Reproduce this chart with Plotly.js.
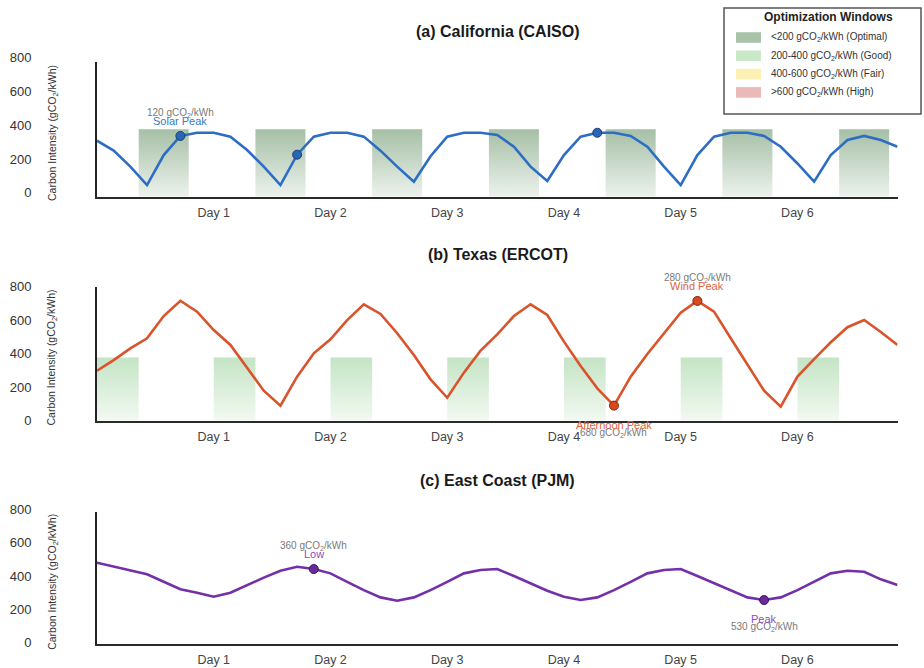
<!DOCTYPE html>
<html>
<head>
<meta charset="utf-8">
<script src="https://cdn.plot.ly/plotly-3.0.1.min.js"></script>
<style>html,body{margin:0;padding:0;background:#fff;}#chart{width:924px;height:668px;}</style>
</head>
<body>
<div id="chart"></div>
<script>
// ---------------- DATA ----------------
const steps = [0,1,2,3,4,5,6,7,8,9,10,11,12,13,14,15,16,17,18,19,20,21,22,23,24,25,26,27,28,29,30,31,32,33,34,35,36,37,38,39,40,41,42,43,44,45,46,47,48];
const dayTickVals = [7,14,21,28,35,42];
const dayTickText = ["Day 1","Day 2","Day 3","Day 4","Day 5","Day 6"];
const yTickVals = [0,200,400,600,800];

const caiso = [332,273,178,69,247,360,379,379,356,277,178,69,249,356,379,379,356,273,178,89,240,356,379,379,366,296,178,93,247,356,379,379,360,296,178,69,247,356,379,379,360,296,197,89,247,336,360,336,296];
const ercot = [298,362,432,492,625,716,651,541,452,313,179,90,263,402,486,601,695,637,522,392,247,137,287,418,515,625,695,631,472,327,193,90,263,398,525,645,715,651,492,332,179,84,263,368,468,558,601,530,452];
const pjm   = [492,468,444,422,377,332,311,287,311,358,402,444,468,454,428,377,327,283,263,283,327,377,428,448,454,412,368,323,287,267,283,327,377,428,448,454,412,368,323,283,267,283,327,377,428,444,438,392,358];

// optimization windows
const caisoWinStart = [2.5,9.5,16.5,23.5,30.5,37.5,44.5];
const caisoWinEnd   = [5.5,12.5,19.5,26.5,33.5,40.5,47.5];
const caisoWinTop   = 400;
const ercotWinStart = [0,7,14,21,28,35,42];
const ercotWinEnd   = [2.5,9.5,16.5,23.5,30.5,37.5,44.5];
const ercotWinTop   = 378;

// highlighted points
const caisoMarkIdx = [5,12,30];
const ercotMarkIdx = [31,36];
const pjmMarkIdx   = [13,40];

// event labels
const caisoEvtIdx = [5];   const caisoEvtLabel = ["Solar Peak"];                 const caisoEvtValue = ["120 gCO<sub>2</sub>/kWh"]; const caisoEvtSide = ["above"];
const ercotEvtIdx = [36,31]; const ercotEvtLabel = ["Wind Peak","Afternoon Peak"]; const ercotEvtValue = ["280 gCO<sub>2</sub>/kWh","680 gCO<sub>2</sub>/kWh"]; const ercotEvtSide = ["above","below"];
const pjmEvtIdx = [13,40];   const pjmEvtLabel = ["Low","Peak"];                   const pjmEvtValue = ["360 gCO<sub>2</sub>/kWh","530 gCO<sub>2</sub>/kWh"]; const pjmEvtSide = ["above","below"];

const panelTitles = ["(a) California (CAISO)","(b) Texas (ERCOT)","(c) East Coast (PJM)"];
const yTitle = "Carbon Intensity (gCO<sub>2</sub>/kWh)";

const legendTitle = "Optimization Windows";
const legendLabels = ["&lt;200 gCO<sub>2</sub>/kWh (Optimal)","200-400 gCO<sub>2</sub>/kWh (Good)","400-600 gCO<sub>2</sub>/kWh (Fair)","&gt;600 gCO<sub>2</sub>/kWh (High)"];
const legendColors = ["#a9c3a9","#c8e8c8","#fdf0b4","#ecb9b9"];

// ---------------- STYLE / LAYOUT ----------------
const W = 924, H = 668;
const FONT = "Liberation Sans, Arial, Helvetica, sans-serif";
const px = v => v / W;
const py = v => 1 - v / H;
const xDom = [px(97), px(897.5)];
// [bottom px, top px] of each panel
const panels = [[196.7, 61.7],[420.7, 286.7],[644.3, 511.7]];
const titleY = [31.7, 255, 480];
const yShift = [-4, -1.5, -2];

const lineColors = ["#2d6ec4","#d9532b","#7330a8"];
const markFill = ["#2a66b8","#d9481f","#6a2a9a"];
const markEdge = ["#1b3f72","#7d2810","#3c1560"];
const evtColors = ["#3b78c9","#e2633b","#8b4cc2"];

function windowsTrace(starts, ends, top, axis, cBottom, cTop) {
  const xs = [], ys = [];
  for (let k = 0; k < starts.length; k++) {
    xs.push(starts[k], starts[k], ends[k], ends[k], starts[k], null);
    ys.push(0, top, top, 0, 0, null);
  }
  return {
    type: "scatter", mode: "lines", x: xs, y: ys, xaxis: "x" + axis, yaxis: "y" + axis,
    fill: "toself", line: {width: 0, color: "rgba(0,0,0,0)"},
    fillgradient: {type: "vertical", colorscale: [[0, cBottom], [1, cTop]]},
    hoverinfo: "skip", showlegend: false
  };
}
function lineTrace(vals, p) {
  return {
    type: "scatter", mode: "lines", x: steps, y: vals,
    xaxis: "x" + (p === 0 ? "" : p + 1), yaxis: "y" + (p === 0 ? "" : p + 1),
    line: {color: lineColors[p], width: 2.6}, showlegend: false, hoverinfo: "x+y"
  };
}
function markTrace(vals, idx, p) {
  return {
    type: "scatter", mode: "markers", x: idx.map(i => steps[i]), y: idx.map(i => vals[i]),
    xaxis: "x" + (p === 0 ? "" : p + 1), yaxis: "y" + (p === 0 ? "" : p + 1),
    marker: {size: 9, color: markFill[p], line: {color: markEdge[p], width: 1}},
    showlegend: false
  };
}

const data = [
  windowsTrace(caisoWinStart, caisoWinEnd, caisoWinTop, "", "rgba(236,242,236,1)", "rgba(166,191,166,1)"),
  windowsTrace(ercotWinStart, ercotWinEnd, ercotWinTop, "2", "rgba(242,249,242,1)", "rgba(197,228,197,1)"),
  lineTrace(caiso, 0), lineTrace(ercot, 1), lineTrace(pjm, 2),
  markTrace(caiso, caisoMarkIdx, 0), markTrace(ercot, ercotMarkIdx, 1), markTrace(pjm, pjmMarkIdx, 2)
];

const layout = {
  width: W, height: H,
  margin: {l: 0, r: 0, t: 0, b: 0, pad: 0},
  paper_bgcolor: "#fff", plot_bgcolor: "rgba(0,0,0,0)",
  font: {family: FONT, color: "#333"},
  showlegend: false,
  annotations: [], shapes: []
};

for (let p = 0; p < 3; p++) {
  const sfx = p === 0 ? "" : String(p + 1);
  layout["xaxis" + sfx] = {
    domain: xDom, range: [0, 48], anchor: "y" + sfx,
    tickmode: "array", tickvals: dayTickVals, ticktext: dayTickText,
    showline: true, linecolor: "#2a2a2a", linewidth: 2, ticks: "",
    showgrid: false, zeroline: false, automargin: false,
    tickfont: {size: 12.5, color: "#444", family: FONT}, ticklabelstandoff: 3,
    fixedrange: true
  };
  layout["yaxis" + sfx] = {
    domain: [py(panels[p][0]), py(panels[p][1])], range: [0, 800], anchor: "x" + sfx,
    tickmode: "array", tickvals: yTickVals,
    showline: true, linecolor: "#222", linewidth: 2, ticks: "",
    showgrid: false, zeroline: false, automargin: false,
    tickfont: {size: 13, color: "#333", family: FONT}, ticklabelstandoff: 61,
    ticklabelshift: yShift[p], fixedrange: true
  };
  layout.annotations.push({
    xref: "paper", yref: "paper", x: px(497.5), y: py(titleY[p]),
    text: "<b>" + panelTitles[p] + "</b>", showarrow: false,
    font: {size: 16, color: "#1a1a1a", family: FONT}, xanchor: "center", yanchor: "middle"
  });
  layout.annotations.push({
    xref: "paper", yref: "paper", x: px(52.3), y: py((panels[p][0] + panels[p][1]) / 2 + 3.5),
    text: yTitle, showarrow: false, textangle: -90,
    font: {size: 10.5, color: "#333", family: FONT}, xanchor: "center", yanchor: "middle"
  });
}

function addEvents(vals, idx, labels, values, sides, p) {
  const sfx = p === 0 ? "" : String(p + 1);
  for (let k = 0; k < idx.length; k++) {
    const above = sides[k] === "above";
    const base = {xref: "x" + sfx, yref: "y" + sfx, x: steps[idx[k]], y: vals[idx[k]], showarrow: false,
                  xanchor: "center", yanchor: "middle"};
    layout.annotations.push(Object.assign({}, base, {
      text: values[k], yshift: above ? 23 : -27, font: {size: 10, color: "#7a7a7a", family: FONT}
    }));
    layout.annotations.push(Object.assign({}, base, {
      text: labels[k], yshift: above ? 15 : -19, font: {size: 11, color: evtColors[p], family: FONT}
    }));
  }
}
addEvents(caiso, caisoEvtIdx, caisoEvtLabel, caisoEvtValue, caisoEvtSide, 0);
addEvents(ercot, ercotEvtIdx, ercotEvtLabel, ercotEvtValue, ercotEvtSide, 1);
addEvents(pjm, pjmEvtIdx, pjmEvtLabel, pjmEvtValue, pjmEvtSide, 2);

// legend box
layout.shapes.push({type: "rect", xref: "paper", yref: "paper", x0: px(724), x1: px(921), y0: py(114), y1: py(8),
  line: {color: "#555", width: 1.5}, fillcolor: "#fff", layer: "above"});
layout.annotations.push({xref: "paper", yref: "paper", x: px(828.5), y: py(17), text: "<b>" + legendTitle + "</b>",
  showarrow: false, xanchor: "center", yanchor: "middle", font: {size: 12, color: "#222", family: FONT}});
for (let k = 0; k < legendLabels.length; k++) {
  const cy = 37.5 + k * 18.3;
  layout.shapes.push({type: "rect", xref: "paper", yref: "paper", x0: px(736), x1: px(761), y0: py(cy + 5.3), y1: py(cy - 5.3),
    line: {width: 0}, fillcolor: legendColors[k], layer: "above"});
  layout.annotations.push({xref: "paper", yref: "paper", x: px(769), y: py(cy), text: legendLabels[k],
    showarrow: false, xanchor: "left", yanchor: "middle", font: {size: 10, color: "#333", family: FONT}});
}

Plotly.newPlot("chart", data, layout, {displayModeBar: false, staticPlot: true});
</script>
</body>
</html>
